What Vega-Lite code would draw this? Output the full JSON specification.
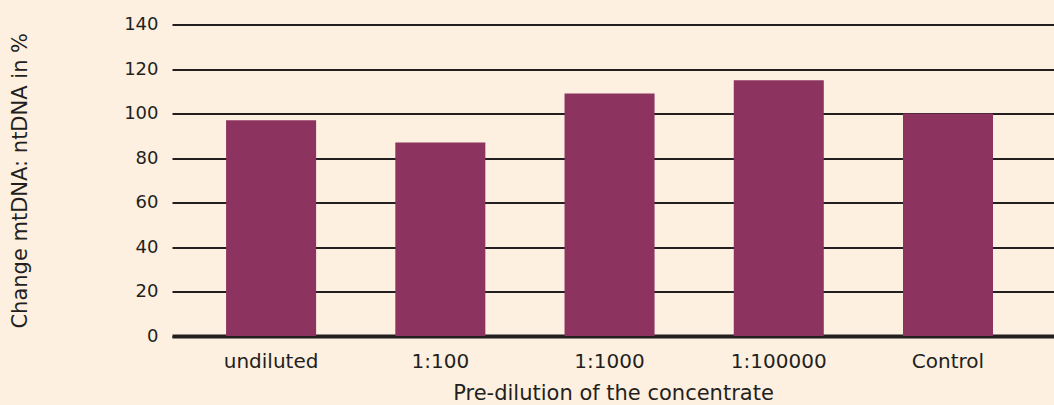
{
  "$schema": "https://vega.github.io/schema/vega-lite/v6.json",
  "width": 882,
  "height": 311.5,
  "autosize": {"type": "none"},
  "padding": {"left": 172, "top": 24.5, "right": 0, "bottom": 69},
  "background": "#fdf0e1",
  "config": {
    "view": {"stroke": null},
    "font": "DejaVu Sans",
    "axis": {
      "labelFont": "DejaVu Sans",
      "titleFont": "DejaVu Sans",
      "labelFontSize": 18,
      "titleFontSize": 21,
      "titleFontWeight": "normal",
      "labelColor": "#231f20",
      "titleColor": "#231f20"
    }
  },
  "data": {
    "values": [
      {"dilution": "undiluted", "value": 97},
      {"dilution": "1:100", "value": 87},
      {"dilution": "1:1000", "value": 109},
      {"dilution": "1:100000", "value": 115},
      {"dilution": "Control", "value": 100}
    ]
  },
  "mark": {"type": "bar", "color": "#8c335f"},
  "encoding": {
    "x": {
      "field": "dilution",
      "type": "nominal",
      "sort": null,
      "scale": {"paddingInner": 0.468, "paddingOuter": 0.34, "align": 0.47},
      "axis": {
        "title": "Pre-dilution of the concentrate",
        "labelAngle": 0,
        "labelFontSize": 20,
        "ticks": false,
        "domainColor": "#231f20",
        "domainWidth": 4,
        "labelPadding": 15,
        "titlePadding": 11
      }
    },
    "y": {
      "field": "value",
      "type": "quantitative",
      "scale": {"domain": [0, 140]},
      "axis": {
        "title": "Change mtDNA: ntDNA in %",
        "values": [0, 20, 40, 60, 80, 100, 120, 140],
        "grid": true,
        "gridColor": "#231f20",
        "gridWidth": 2,
        "gridOpacity": 1,
        "domain": false,
        "ticks": false,
        "labelPadding": 14,
        "titlePadding": 93
      }
    }
  }
}
